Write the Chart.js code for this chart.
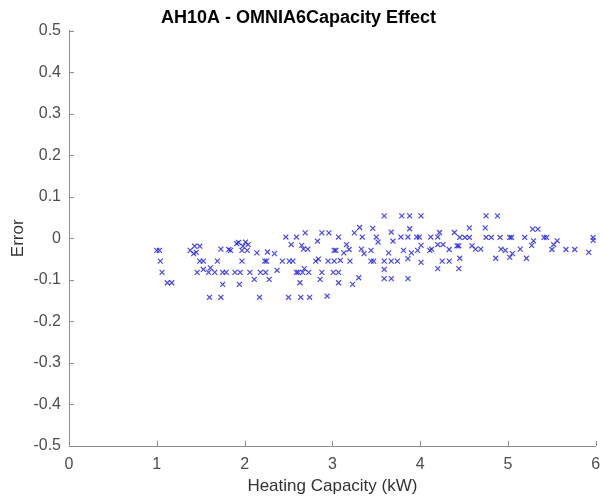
<!DOCTYPE html>
<html>
<head>
<meta charset="utf-8">
<script src="https://cdn.jsdelivr.net/npm/chart.js@4"></script>
<style>
  html, body { margin: 0; padding: 0; background: #fff; }
  canvas { display: block; }
</style>
</head>
<body>
<canvas id="chart" width="601" height="499"></canvas>
<script>
const capacity = [
  1.00, 1.03, 1.04, 1.06, 1.12, 1.17, 1.38, 1.43, 1.49, 1.45, 1.42, 1.49, 1.53,
  1.46, 1.53, 1.59, 1.61, 1.66, 1.60, 1.73, 1.73, 1.82, 1.84, 1.69, 1.75, 1.79,
  1.75, 1.91, 1.93, 2.01, 2.04, 1.97, 2.03, 1.98, 1.89, 1.95, 1.94, 1.97, 2.06,
  2.11, 2.14, 2.18, 2.24, 2.23, 2.25, 2.26, 2.34, 2.28, 2.17, 2.37, 2.43, 2.51,
  2.55, 2.47, 2.53, 2.59, 2.50, 2.59,
  3.59, 3.79, 3.88, 4.01, 2.69, 2.88, 2.96, 3.07, 3.25, 3.31, 3.34, 3.46, 3.50,
  3.52, 3.67, 3.69, 3.78, 3.86, 3.96, 3.99, 3.88, 4.12, 4.20, 4.22, 2.65, 2.67,
  2.72, 2.83, 3.02, 3.04, 3.13, 3.16, 3.19, 3.33, 3.36, 3.44, 3.64, 3.81, 3.90,
  3.97, 4.01, 4.11, 4.13, 4.20, 4.26, 2.81, 2.84, 2.95, 3.02, 3.09, 3.20, 3.44,
  3.47, 3.59, 3.67, 3.74, 3.86, 4.01, 2.61, 2.66, 2.73, 2.68, 2.88, 3.01, 3.07,
  3.59, 4.20, 2.63, 2.86, 3.07, 3.23, 3.30, 3.59, 3.67, 3.86, 2.64, 2.74, 2.94,
  4.75, 4.88, 4.56, 4.74, 5.28, 5.34, 4.39, 4.45, 4.51, 4.56, 4.75, 4.81, 4.91,
  5.02, 5.04, 5.19, 5.41, 5.44, 5.97, 5.97, 5.29, 5.56, 4.42, 4.44, 4.59, 5.27,
  5.52, 4.33, 4.63, 4.69, 4.92, 4.97, 5.05, 5.14, 5.50, 5.66, 5.76, 5.92, 4.25,
  4.33, 4.45, 4.86, 5.02, 5.21, 4.44
];
const error = [
  -0.029, -0.029, -0.055, -0.082, -0.107, -0.107, -0.029, -0.019, -0.019, -0.034, -0.037, -0.055, -0.055,
  -0.082, -0.075, -0.082, -0.071, -0.082, -0.142, -0.142, -0.026, -0.027, -0.029, -0.055, -0.082, -0.082,
  -0.111, -0.013, -0.010, -0.009, -0.015, -0.029, -0.029, -0.019, -0.082, -0.082, -0.111, -0.055, -0.082,
  -0.099, -0.035, -0.082, -0.082, -0.055, -0.055, -0.033, -0.037, -0.099, -0.142, -0.077, -0.055, -0.055,
  -0.055, 0.003, -0.015, 0.003, -0.142, -0.082,
  0.054, 0.054, 0.054, 0.054, 0.013, 0.013, 0.013, 0.003, 0.013, 0.026, 0.003, 0.024, 0.003,
  -0.009, 0.015, -0.007, 0.003, 0.003, 0.003, 0.003, 0.023, 0.003, 0.003, 0.014, -0.017, -0.026,
  -0.026, -0.007, -0.029, -0.029, -0.035, -0.015, -0.027, -0.026, -0.037, -0.029, -0.035, -0.029, -0.035,
  -0.029, -0.017, -0.029, -0.026, -0.015, -0.015, -0.055, -0.050, -0.055, -0.055, -0.053, -0.055, -0.055,
  -0.055, -0.055, -0.055, -0.055, -0.049, -0.058, -0.082, -0.082, -0.082, -0.073, -0.082, -0.082, -0.082,
  -0.075, -0.073, -0.107, -0.099, -0.107, -0.111, -0.095, -0.097, -0.097, -0.097, -0.142, -0.142, -0.139,
  0.054, 0.054, 0.025, 0.025, 0.022, 0.022, 0.014, 0.002, 0.002, 0.002, 0.002, 0.002, 0.002,
  0.002, 0.002, 0.002, 0.002, 0.002, 0.002, -0.005, -0.006, -0.006, -0.018, -0.018, -0.018, -0.017,
  -0.015, -0.027, -0.026, -0.026, -0.026, -0.029, -0.037, -0.026, -0.027, -0.027, -0.027, -0.034, -0.055,
  -0.055, -0.048, -0.048, -0.046, -0.048, -0.073
];
const xTicks = [0, 1, 2, 3, 4, 5, 6];
const yTicks = [-0.5, -0.4, -0.3, -0.2, -0.1, 0, 0.1, 0.2, 0.3, 0.4, 0.5];

const FONT = "'Liberation Sans', Arial, Helvetica, sans-serif";
const AXIS_GRAY = "#8c8c8c";

// MATLAB style ticks point into the plot
const inwardTicks = {
  id: "inwardTicks",
  afterDraw(chart) {
    const { ctx, chartArea, scales } = chart;
    ctx.save();
    ctx.strokeStyle = AXIS_GRAY;
    ctx.lineWidth = 1;
    ctx.beginPath();
    xTicks.forEach((v) => {
      const px = Math.round(scales.x.getPixelForValue(v)) + 0.5;
      ctx.moveTo(px, chartArea.bottom);
      ctx.lineTo(px, chartArea.bottom - 5);
    });
    yTicks.forEach((v) => {
      const py = Math.round(scales.y.getPixelForValue(v)) + 0.5;
      ctx.moveTo(chartArea.left, py);
      ctx.lineTo(chartArea.left + 5, py);
    });
    ctx.stroke();
    ctx.restore();
  },
};

const ctx = document.getElementById("chart").getContext("2d");
new Chart(ctx, {
  type: "scatter",
  data: {
    datasets: [
      {
        label: "Error",
        data: capacity.map((x, i) => ({ x: x, y: error[i] })),
        pointStyle: "crossRot",
        radius: 3.5,
        borderWidth: 1.2,
        borderColor: "rgba(25,25,225,0.8)",
        backgroundColor: "rgba(25,25,225,0.8)",
      },
    ],
  },
  options: {
    responsive: false,
    animation: false,
    layout: { padding: { left: 0, right: 4, top: 0, bottom: 0 } },
    plugins: {
      legend: { display: false },
      tooltip: { enabled: false },
      title: {
        display: true,
        text: "AH10A - OMNIA6Capacity Effect",
        color: "#000",
        font: { family: FONT, size: 18, weight: "bold" },
        padding: { top: 7, bottom: 2 },
      },
    },
    scales: {
      x: {
        type: "linear",
        min: 0,
        max: 6,
        afterFit: (s) => {
          s.height = 53;
          s.paddingLeft = 0;
          s.paddingRight = 0;
        },
        afterBuildTicks: (s) => { s.ticks = xTicks.map((v) => ({ value: v })); },
        ticks: {
          color: "#4d4d4d",
          font: { family: FONT, size: 16 },
          padding: 9,
          callback: (v) => String(v),
        },
        grid: { drawOnChartArea: false, drawTicks: false },
        border: { color: AXIS_GRAY, width: 1 },
        title: {
          display: true,
          text: "Heating Capacity (kW)",
          color: "#333",
          font: { family: FONT, size: 17 },
          padding: { top: 0, bottom: 2 },
        },
      },
      y: {
        type: "linear",
        min: -0.5,
        max: 0.5,
        afterFit: (s) => { s.width = 69; },
        afterBuildTicks: (s) => { s.ticks = yTicks.map((v) => ({ value: v })); },
        ticks: {
          color: "#4d4d4d",
          font: { family: FONT, size: 16 },
          padding: 8,
          callback: (v) => String(Number(v.toFixed(1))),
        },
        grid: { drawOnChartArea: false, drawTicks: false },
        border: { color: AXIS_GRAY, width: 1 },
        title: {
          display: true,
          text: "Error",
          color: "#333",
          font: { family: FONT, size: 17 },
          padding: { top: 8, bottom: 0 },
        },
      },
    },
  },
  plugins: [inwardTicks],
});
</script>
</body>
</html>
